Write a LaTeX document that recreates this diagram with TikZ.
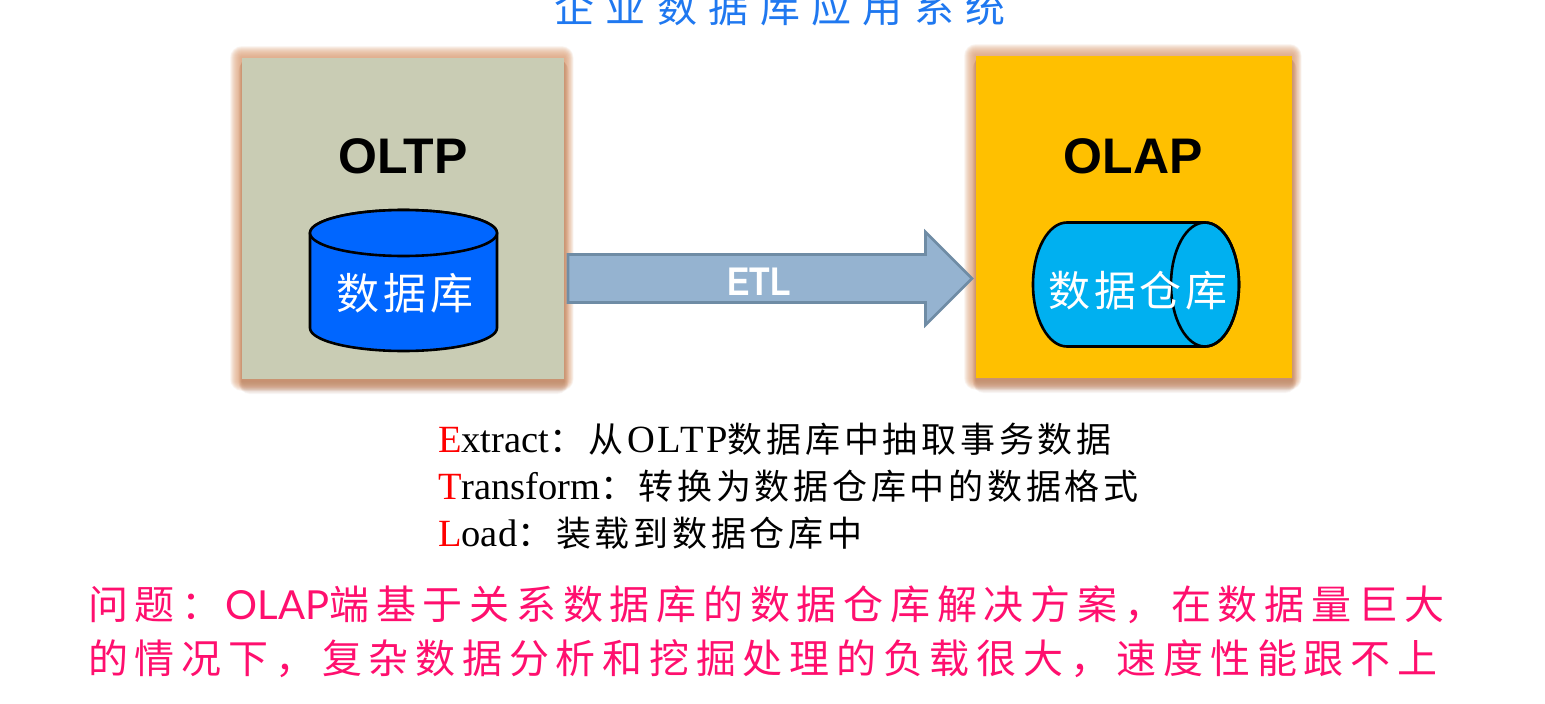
\documentclass[tikz,border=0pt]{standalone}
\usepackage{fontspec}
\usetikzlibrary{shapes.arrows}
\setmainfont{Liberation Serif}
\newfontfamily\serifwide[LetterSpace=7]{Liberation Serif}
\newfontfamily\cjktitle[LetterSpace=28.5]{Noto Sans CJK SC}
\newfontfamily\cjkbody[LetterSpace=10.7]{Noto Sans CJK SC}
\newfontfamily\cjkpink[LetterSpace=16.9]{Noto Sans CJK SC}
\newfontfamily\cjkdb[LetterSpace=9]{Noto Sans CJK SC}
\newfontfamily\heads{Liberation Sans}
\newfontfamily\gill{Lato}
\definecolor{titleblue}{HTML}{1F78F0}
\definecolor{oltpfill}{HTML}{C9CCB4}
\definecolor{olapfill}{HTML}{FFC000}
\definecolor{dbblue}{HTML}{0066FF}
\definecolor{dwblue}{HTML}{00B0F0}
\definecolor{arrowfill}{HTML}{95B3D0}
\definecolor{arrowline}{HTML}{6F8CA5}
\definecolor{glow}{HTML}{E2A67F}
\definecolor{glowdark}{HTML}{A87050}
\definecolor{pinktext}{HTML}{FF0F6E}
\newcommand{\fpx}[1]{\fontsize{#1}{#1}\selectfont}
\newcommand{\cjkb}[1]{{\cjkbody\fpx{35}#1}}
% soft halo behind a panel: nested translucent rectangles
\newcommand{\halo}[4]{%
  \foreach \d in {12,11.5,...,0.5}{
    \fill[glowdark,opacity=.035,rounded corners=\d pt]
      (#1-\d*.3,#2+4-\d*.2) rectangle (#3+\d*.4,#4+2+\d*1.1);
    \fill[glow,opacity=.07,rounded corners=\d pt]
      (#1-\d,#2-\d) rectangle (#3+\d*.8,#4+\d);
  }}
\tikzset{
  x=1pt,y=-1pt,
  panel/.style={anchor=north west,inner sep=0pt,outer sep=0pt},
  panelhead/.style={font=\heads\bfseries\fpx{50},text=black,inner sep=0pt},
  whitelabel/.style={font=\cjkdb\fpx{43},text=white,inner sep=0pt},
  line/.style={anchor=base west,inner sep=0pt,font=\fpx{38.5},text=black},
  pinkline/.style={anchor=base west,inner sep=0pt,font=\cjkpink\fpx{40},text=pinktext},
  drum/.style={draw=black,line width=2.6pt,line join=round},
  blockarrow/.style={single arrow,draw=arrowline,fill=arrowfill,line width=2.6pt,
    inner xsep=0pt,inner ysep=22.7pt,outer sep=0pt,minimum height=404pt,
    single arrow head extend=22.5pt,single arrow head indent=0pt,anchor=west},
}
\begin{document}
\begin{tikzpicture}
\useasboundingbox (0,0) rectangle (1545,704);
\clip (0,0) rectangle (1545,704);
\fill[white] (0,0) rectangle (1545,704);

\node[inner sep=0pt,anchor=base,text=titleblue,font=\cjktitle\fpx{40}] (title) at (780,22) {企业数据库应用系统};

% panels
\halo{242}{58}{564}{379}
\halo{976}{56}{1292}{378}
\node[panel,fill=oltpfill,minimum width=322pt,minimum height=321pt] (oltp) at (242,58) {};
\node[panel,fill=olapfill,minimum width=316pt,minimum height=322pt] (olap) at (976,56) {};
\node[panelhead] (oltphead) at (403,156) {OLTP};
\node[panelhead] (olaphead) at (1133,156) {OLAP};

% vertical database drum
\coordinate (dbtop) at (403.5,233);
\draw[drum,fill=dbblue]
  ([xshift=-93.5pt]dbtop) -- ([xshift=-93.5pt,yshift=-95pt]dbtop)
  arc[start angle=180,end angle=360,x radius=93.5pt,y radius=23pt]
  -- ([xshift=93.5pt]dbtop)
  arc[start angle=0,end angle=180,x radius=93.5pt,y radius=23pt] -- cycle;
\draw[drum,fill=dbblue] (dbtop) ellipse[x radius=93.5pt,y radius=23pt];
\node[whitelabel] (dblabel) at (405,293) {数据库};

% horizontal warehouse drum
\coordinate (dwleft) at (1067,284.5);
\coordinate (dwright) at (1205,284.5);
\draw[drum,fill=dwblue]
  ([yshift=62pt]dwleft) -- ([yshift=62pt]dwright)
  arc[start angle=90,end angle=-90,x radius=34pt,y radius=62pt]
  -- ([yshift=-62pt]dwleft)
  arc[start angle=270,end angle=90,x radius=34pt,y radius=62pt] -- cycle;
\draw[drum] (dwright) ellipse[x radius=34pt,y radius=62pt];
\node[whitelabel,font=\cjkdb\fpx{42}] (dwlabel) at (1138,291) {数据仓库};

% ETL block arrow between the two panels
\node[blockarrow] (etlarrow) at (568,278.5) {};
\node[inner sep=0pt,font=\heads\bfseries\fpx{40},text=white,xscale=.84] (etl) at (759,282) {ETL};

% ETL legend
\node[line] (extract) at (438,452) {{\color{red}E}xtract\cjkb{：从}\hspace{4pt}{\serifwide OLTP}\cjkb{数据库中抽取事务数据}};
\node[line] (transform) at (438,499) {{\color{red}T}ransform\cjkb{：\hspace{3pt}转换为数据仓库中的数据格式}};
\node[line] (load) at (438,546) {{\color{red}L}oad\cjkb{：装载到数据仓库中}};

% closing remark
\node[pinkline] (remarka) at (88,619) {问题：\hspace{4pt}{\gill OLAP}端基于关系数据库的数据仓库解决方案，在数据量巨大};
\node[pinkline] (remarkb) at (88,673) {的情况下，复杂数据分析和挖掘处理的负载很大，速度性能跟不上};
\end{tikzpicture}
\end{document}
